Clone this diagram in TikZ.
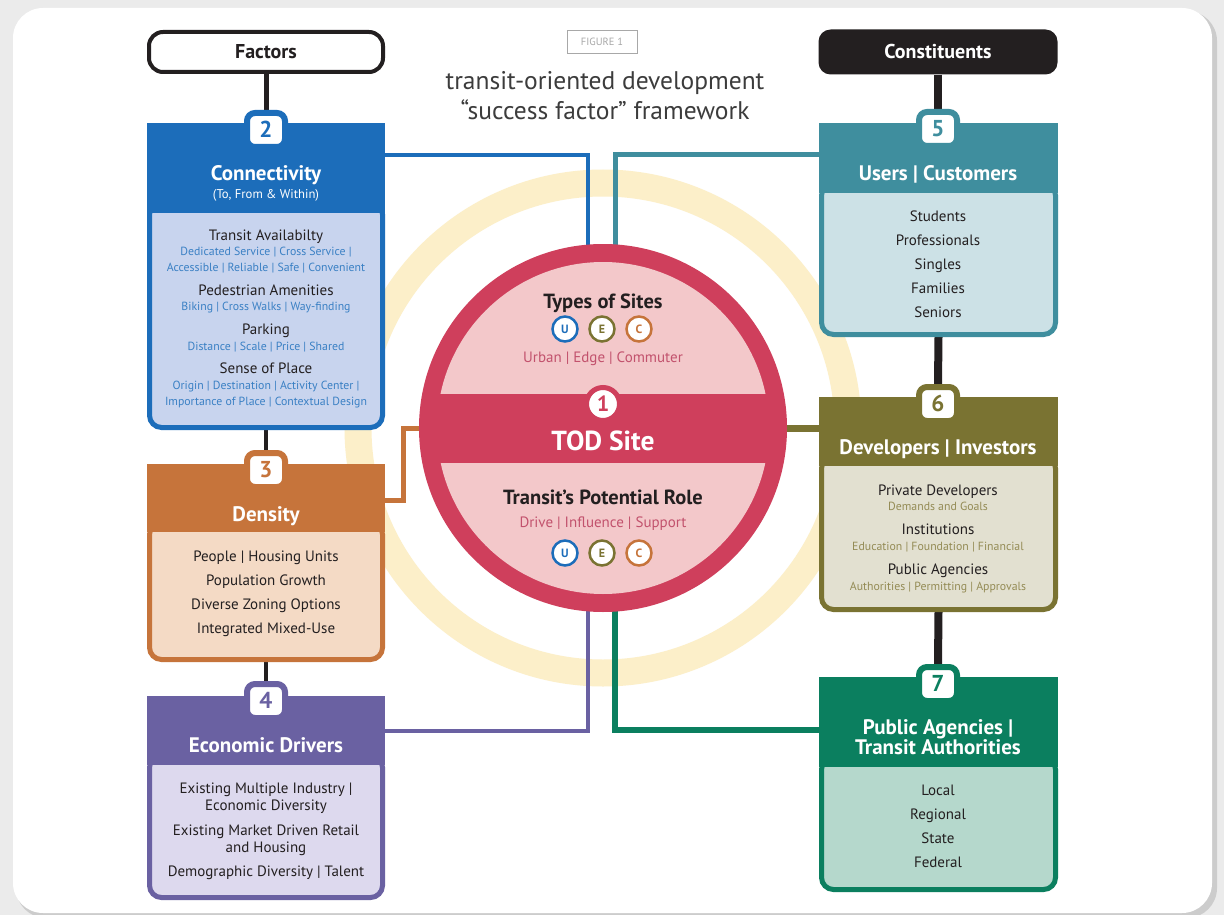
\documentclass[tikz,border=0pt]{standalone}
\usepackage{fontspec}
\setmainfont{PT Sans}
\usetikzlibrary{positioning}

\definecolor{conblue}{HTML}{1C6DBA}
\definecolor{conblueL}{HTML}{C8D4EE}
\definecolor{consub}{HTML}{3A80C4}
\definecolor{denorange}{HTML}{C6743B}
\definecolor{denorangeL}{HTML}{F4DAC5}
\definecolor{ecopurple}{HTML}{6A61A2}
\definecolor{ecopurpleL}{HTML}{DDD9EE}
\definecolor{userteal}{HTML}{3F8E9E}
\definecolor{usertealL}{HTML}{CCE1E6}
\definecolor{devolive}{HTML}{7A7332}
\definecolor{devoliveL}{HTML}{E2E0D0}
\definecolor{devsub}{HTML}{948B55}
\definecolor{pubgreen}{HTML}{0B7F5F}
\definecolor{pubgreenL}{HTML}{B5D8CC}
\definecolor{todred}{HTML}{CF3F5C}
\definecolor{todpink}{HTML}{F3C8CA}
\definecolor{todrose}{HTML}{C2526D}
\definecolor{ringyellow}{HTML}{FCEFC9}
\definecolor{inktext}{HTML}{231F20}
\definecolor{figgray}{HTML}{A8A8A8}
\definecolor{headgray}{HTML}{3C3C3C}

\pgfdeclarelayer{back}
\pgfdeclarelayer{lines}
\pgfsetlayers{back,lines,main}

\begin{document}
\begin{tikzpicture}[x=1pt, y=-1pt,
  every node/.style={inner sep=0pt},
  hdr/.style={rectangle, minimum width=238pt},
  bodybox/.style={rectangle, rounded corners=12pt, line width=5pt, minimum width=233pt},
  tabbox/.style={rectangle, rounded corners=8pt, fill=white, line width=6pt, minimum width=38pt, minimum height=34pt, text height=15.5pt, text depth=0pt, font=\fontsize{23}{23}\selectfont\bfseries},
  ttl/.style={text=white, text height=14.5pt, text depth=0pt, font=\fontsize{21}{24}\selectfont\bfseries},
  item/.style={text=inktext, text height=10.5pt, text depth=0pt, font=\fontsize{15}{17}\selectfont},
  subitem/.style={text height=8.2pt, text depth=0pt, font=\fontsize{11.8}{13}\selectfont},
  uec/.style={circle, fill=white, line width=2.5pt, minimum size=25pt, text height=8.5pt, text depth=0pt, font=\fontsize{12}{12}\selectfont\bfseries},
  trunk/.style={inktext},
  spoke/.style={line width=5pt}
]
\useasboundingbox (0,0) rectangle (1224,915);

% headings
\node[draw=inktext, fill=white, line width=4pt, rounded corners=14pt, minimum width=234pt, minimum height=40pt,
      text height=14pt, text depth=0pt, font=\fontsize{20}{22}\selectfont\bfseries, text=inktext] (factors) at (266,52) {Factors};
\node[fill=inktext, rounded corners=12pt, minimum width=239pt, minimum height=45pt,
      text height=14pt, text depth=0pt, font=\fontsize{20}{22}\selectfont\bfseries, text=white] (constit) at (938,52) {Constituents};
\node[draw=figgray, line width=0.8pt, minimum width=70pt, minimum height=23pt, text=figgray,
      text height=7pt, text depth=0pt, font=\fontsize{10.5}{10}\selectfont] (fig) at (602,42) {FIGURE 1};
\node[text=headgray, font=\fontsize{25.5}{28}\selectfont] (head1) at (605,83) {transit-oriented development};
\node[text=headgray, font=\fontsize{25.5}{28}\selectfont] (head2) at (605,110) {“success factor” framework};

% 1 - TOD site
\node[circle, fill=todred, minimum size=368pt] (tod) at (603,428) {};
\begin{scope}
  \clip (tod.center) circle (166pt);
  \fill[todpink] (420,250) rectangle (790,394);
  \fill[todpink] (420,463) rectangle (790,612);
\end{scope}
\node[circle, fill=white, draw=todred, line width=5pt, minimum size=33pt, text=todred,
      text height=14.5pt, text depth=0pt, font=\fontsize{22}{22}\selectfont\bfseries] (one) at (603,404) {1};
\node[text=white, text height=19pt, text depth=0pt, font=\fontsize{27.5}{30}\selectfont\bfseries] (todttl) at (603,441) {TOD Site};
\node[text=inktext, text height=14pt, text depth=0pt, font=\fontsize{20.5}{23}\selectfont\bfseries] (sites) at (603,301) {Types of Sites};
\node[uec, draw=conblue, text=conblue] (u1) at (565,329) {U};
\node[uec, draw=devolive, text=devolive] (e1) at (602,329) {E};
\node[uec, draw=denorange, text=denorange] (c1) at (639,329) {C};
\node[text=todrose, text height=10.5pt, text depth=0pt, font=\fontsize{15}{17}\selectfont] (sitetypes) at (603,357) {Urban | Edge | Commuter};
\node[text=inktext, text height=14pt, text depth=0pt, font=\fontsize{20.5}{23}\selectfont\bfseries] (role) at (603,497) {Transit’s Potential Role};
\node[text=todrose, text height=10.5pt, text depth=0pt, font=\fontsize{15}{17}\selectfont] (roletypes) at (603,522) {Drive | Influence | Support};
\node[uec, draw=conblue, text=conblue] (u2) at (565,553) {U};
\node[uec, draw=devolive, text=devolive] (e2) at (602,553) {E};
\node[uec, draw=denorange, text=denorange] (c2) at (639,553) {C};

% 2 - Connectivity
\node[bodybox, draw=conblue, fill=conblueL, minimum height=225pt] (bd2) at (266,315) {};
\node[hdr, fill=conblue, minimum height=90pt] (hd2) at (266,168) {};
\node[tabbox, draw=conblue, text=conblue] (tab2) at (266,130) {2};
\node[ttl] (ttl2) at (266,173) {Connectivity};
\node[text=white, text height=9pt, text depth=0pt, font=\fontsize{12.7}{14}\selectfont] (ttl2b) at (266,194) {(To, From \& Within)};
\node[item] (c2a) at (266,235) {Transit Availabilty};
\node[subitem, text=consub] (c2b) at (266,251) {Dedicated Service | Cross Service |};
\node[subitem, text=consub] (c2c) at (266,267) {Accessible | Reliable | Safe | Convenient};
\node[item] (c2d) at (266,290) {Pedestrian Amenities};
\node[subitem, text=consub] (c2e) at (266,306) {Biking | Cross Walks | Way-finding};
\node[item] (c2f) at (266,329) {Parking};
\node[subitem, text=consub] (c2g) at (266,346) {Distance | Scale | Price | Shared};
\node[item] (c2h) at (266,368) {Sense of Place};
\node[subitem, text=consub] (c2i) at (266,385) {Origin | Destination | Activity Center |};
\node[subitem, text=consub] (c2j) at (266,401) {Importance of Place | Contextual Design};

% 3 - Density
\node[bodybox, draw=denorange, fill=denorangeL, minimum height=137pt] (bd3) at (266,591) {};
\node[hdr, fill=denorange, minimum height=68pt] (hd3) at (266,498) {};
\node[tabbox, draw=denorange, text=denorange] (tab3) at (266,470) {3};
\node[ttl] (ttl3) at (266,514) {Density};
\node[item] (d3a) at (266,556) {People | Housing Units};
\node[item] (d3b) at (266,580) {Population Growth};
\node[item] (d3c) at (266,604) {Diverse Zoning Options};
\node[item] (d3d) at (266,628) {Integrated Mixed-Use};

% 4 - Economic Drivers
\node[bodybox, draw=ecopurple, fill=ecopurpleL, minimum height=142pt] (bd4) at (266,826.5) {};
\node[hdr, fill=ecopurple, minimum height=69pt] (hd4) at (266,730.5) {};
\node[tabbox, draw=ecopurple, text=ecopurple] (tab4) at (266,701) {4};
\node[ttl] (ttl4) at (266,745) {Economic Drivers};
\node[item] (e4a) at (266,788) {Existing Multiple Industry |};
\node[item] (e4b) at (266,805) {Economic Diversity};
\node[item] (e4c) at (266,830) {Existing Market Driven Retail};
\node[item] (e4d) at (266,847) {and Housing};
\node[item] (e4e) at (266,871) {Demographic Diversity | Talent};

% 5 - Users | Customers
\node[bodybox, draw=userteal, fill=usertealL, minimum height=151pt, minimum width=234pt] (bd5) at (938.5,259) {};
\node[hdr, fill=userteal, minimum height=70pt, minimum width=239pt] (hd5) at (938.5,158) {};
\node[tabbox, draw=userteal, text=userteal] (tab5) at (938,129) {5};
\node[ttl] (ttl5) at (938,173) {Users | Customers};
\node[item] (u5a) at (938,216) {Students};
\node[item] (u5b) at (938,240) {Professionals};
\node[item] (u5c) at (938,264) {Singles};
\node[item] (u5d) at (938,288) {Families};
\node[item] (u5e) at (938,312) {Seniors};

% 6 - Developers | Investors
\node[bodybox, draw=devolive, fill=devoliveL, minimum height=153pt, minimum width=234pt] (bd6) at (938.5,533) {};
\node[hdr, fill=devolive, minimum height=69pt, minimum width=239pt] (hd6) at (938.5,431.5) {};
\node[tabbox, draw=devolive, text=devolive] (tab6) at (938,404) {6};
\node[ttl] (ttl6) at (938,447) {Developers | Investors};
\node[item] (v6a) at (938,490) {Private Developers};
\node[subitem, text=devsub] (v6b) at (938,506) {Demands and Goals};
\node[item] (v6c) at (938,529) {Institutions};
\node[subitem, text=devsub] (v6d) at (938,546) {Education | Foundation | Financial};
\node[item] (v6e) at (938,569) {Public Agencies};
\node[subitem, text=devsub] (v6f) at (938,586) {Authorities | Permitting | Approvals};

% 7 - Public Agencies | Transit Authorities
\node[bodybox, draw=pubgreen, fill=pubgreenL, minimum height=132pt, minimum width=234pt] (bd7) at (938.5,823.5) {};
\node[hdr, fill=pubgreen, minimum height=90pt, minimum width=239pt] (hd7) at (938.5,722) {};
\node[tabbox, draw=pubgreen, text=pubgreen] (tab7) at (938,684) {7};
\node[ttl] (ttl7a) at (938,727) {Public Agencies |};
\node[ttl] (ttl7b) at (938,747) {Transit Authorities};
\node[item] (p7a) at (938,790) {Local};
\node[item] (p7b) at (938,814) {Regional};
\node[item] (p7c) at (938,838) {State};
\node[item] (p7d) at (938,862) {Federal};

% connectors
\begin{pgfonlayer}{lines}
\draw[trunk, line width=5pt] (factors.south) -- (tab2.north);
\draw[trunk, line width=4pt] (bd2.south) -- (tab3.north);
\draw[trunk, line width=4pt] (bd3.south) -- (tab4.north);
\draw[trunk, line width=8pt] (constit.south) -- (tab5.north);
\draw[trunk, line width=8pt] (bd5.south) -- (tab6.north);
\draw[trunk, line width=8pt] (bd6.south) -- (tab7.north);

\draw[spoke, conblue, line width=4pt] ([yshift=13pt]hd2.east) -| ([xshift=-15pt]tod.center);
\draw[spoke, denorange] ([yshift=-2pt]hd3.east) -- ++(18,0) |- (tod.west);
\draw[spoke, ecopurple, line width=4pt] (hd4.east) -| ([xshift=-15pt]tod.center);
\draw[spoke, userteal] ([yshift=3pt]hd5.west) -| ([xshift=12pt]tod.center);
\draw[spoke, devolive, line width=7pt] (tod.east) -- (tod.east -| hd6.west);
\draw[spoke, pubgreen, line width=6pt] ([yshift=-8pt]hd7.west) -| ([xshift=12pt]tod.center);
\end{pgfonlayer}

% card and ring
\begin{pgfonlayer}{back}
\fill[black!8] (0,0) rectangle (1224,915);
\fill[black!20, rounded corners=30pt] (16,11) rectangle (1217,918);
\fill[white, rounded corners=30pt] (13,8) rectangle (1212,913);
\draw[ringyellow, line width=27pt] (tod.center) circle (245pt);
\end{pgfonlayer}

\end{tikzpicture}
\end{document}
